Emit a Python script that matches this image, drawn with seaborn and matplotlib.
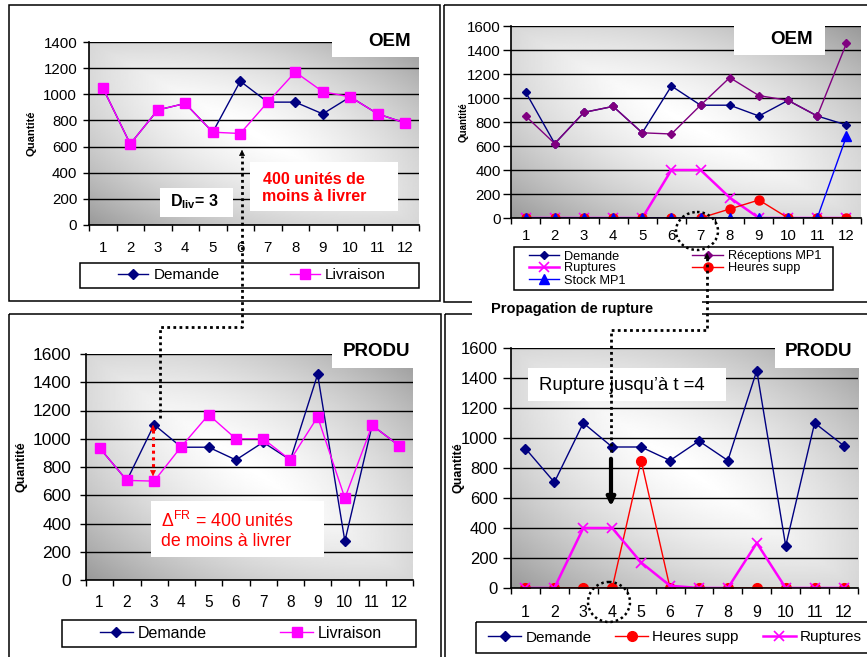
import numpy as np
import matplotlib
matplotlib.use("Agg")
import matplotlib.pyplot as plt
import seaborn as sns
from matplotlib.patches import Rectangle, Ellipse

# ---------------- data ----------------
periods = [1, 2, 3, 4, 5, 6, 7, 8, 9, 10, 11, 12]
period_labels = ["1", "2", "3", "4", "5", "6", "7", "8", "9", "10", "11", "12"]

oem_demande = [1050, 620, 880, 930, 710, 1100, 940, 940, 850, 980, 850, 780]
oem_livraison = [1050, 620, 880, 930, 710, 700, 940, 1170, 1020, 980, 850, 780]

oem2_demande = [1050, 620, 880, 930, 710, 1100, 940, 940, 850, 980, 850, 775]
oem2_receptions = [850, 620, 880, 930, 710, 700, 940, 1170, 1020, 980, 850, 1455]
oem2_ruptures = [0, 0, 0, 0, 0, 400, 400, 170, 0, 0, 0, 0]
oem2_heures = [0, 0, 0, 0, 0, 0, 0, 75, 150, 0, 0, 0]
oem2_stock = [0, 0, 0, 0, 0, 0, 0, 0, 0, 0, 0, 680]

produ_demande = [935, 705, 1100, 940, 940, 850, 975, 850, 1455, 275, 1095, 950]
produ_livraison = [935, 705, 700, 945, 1170, 1000, 1000, 850, 1155, 580, 1095, 950]

produ2_demande = [930, 705, 1100, 940, 940, 850, 980, 850, 1450, 280, 1100, 950]
produ2_heures = [0, 0, 0, 0, 850, 0, 0, 0, 0, 0, 0, 0]
produ2_ruptures = [0, 0, 400, 400, 170, 15, 0, 0, 300, 0, 0, 0]

NAVY = "#000080"
MAGENTA = "#FF00FF"
PURPLE = "#800080"
RED = "#FF0000"
BLUE = "#0000FF"

plt.rcParams["font.family"] = ["Liberation Sans", "DejaVu Sans"]
plt.rcParams["mathtext.fontset"] = "custom"
plt.rcParams["mathtext.rm"] = "Liberation Sans"
plt.rcParams["mathtext.bf"] = "Liberation Sans:bold"
plt.rcParams["mathtext.it"] = "Liberation Sans:italic"

W, H = 867, 657
fig = plt.figure(figsize=(W / 100, H / 100), dpi=100)
fig.patch.set_facecolor("white")


def px_rect(x0, y0, x1, y1):
    return [x0 / W, 1 - y1 / H, (x1 - x0) / W, (y1 - y0) / H]


# gradient for plot areas
gu, gv = np.meshgrid(np.linspace(0, 1, 200), np.linspace(1, 0, 200))
grad = 1 - 0.24 * np.abs(gu + gv - 1) ** 1.1 - 0.32 * ((gu - 0.5) ** 2 + (gv - 0.5) ** 2)


def style_axes(ax, ymax, ystep, yfs, xfs, ylen, ypad, xpad, ylab_fs, ylab_x):
    ax.imshow(grad, extent=[0, 1, 0, 1], transform=ax.transAxes, cmap="gray",
              vmin=0, vmax=1, aspect="auto", zorder=-2, interpolation="bilinear")
    ax.set_xlim(0.5, 12.5)
    ax.set_ylim(0, ymax)
    ax.set_yticks(np.arange(0, ymax + 1, ystep))
    ax.set_xticks(periods)
    ax.set_xticklabels(period_labels)
    ax.set_xticks(np.arange(0.5, 13, 1), minor=True)
    ax.tick_params(axis="x", which="major", length=0, pad=xpad, labelsize=xfs)
    ax.tick_params(axis="x", which="minor", length=4, width=1, direction="out")
    ax.tick_params(axis="y", length=ylen, width=1, pad=ypad, labelsize=yfs)
    ax.yaxis.grid(True, color="black", lw=1)
    ax.xaxis.grid(False)
    ax.set_axisbelow(True)
    for s in ["top", "right"]:
        ax.spines[s].set_visible(False)
    for s in ["left", "bottom"]:
        ax.spines[s].set_color("black")
        ax.spines[s].set_linewidth(1.2)
    ax.set_xlabel("")
    ax.set_ylabel("Quantité", fontsize=ylab_fs, fontweight="bold")
    ax.yaxis.set_label_coords(ylab_x, 0.5)


def line(ax, y, color, marker, ms, lw, label, mew=1.0):
    sns.lineplot(x=periods, y=y, ax=ax, color=color, marker=marker, markersize=ms,
                 markeredgecolor=color, markeredgewidth=mew, linewidth=lw, label=label)


def legend(ax, cx, cy, ncol, fs, hl, htp, cs, ls=0.5, order=None):
    h, l = ax.get_legend_handles_labels()
    if order is not None:
        h = [h[i] for i in order]
        l = [l[i] for i in order]
    ax.legend(h, l, loc="center", bbox_to_anchor=(cx / W, 1 - cy / H),
              bbox_transform=fig.transFigure, ncol=ncol, frameon=False, fontsize=fs,
              handlelength=hl, handletextpad=htp, columnspacing=cs, labelspacing=ls,
              borderaxespad=0, borderpad=0)


# ---------------- top-left: OEM ----------------
ax1 = fig.add_axes(px_rect(89, 42, 419, 225))
line(ax1, oem_demande, NAVY, "D", 5, 1.0, "Demande")
line(ax1, oem_livraison, MAGENTA, "s", 6.5, 1.0, "Livraison")
style_axes(ax1, 1400, 200, 10.8, 10.8, 4.5, 4, 11.5, 8, -0.16)
legend(ax1, 252, 275.5, 2, 11, 1.96, 0.33, 4.6)

# ---------------- top-right: OEM ----------------
ax2 = fig.add_axes(px_rect(511, 26, 861, 218))
line(ax2, oem2_demande, NAVY, "D", 4.5, 1.0, "Demande")
line(ax2, oem2_receptions, PURPLE, "D", 4.5, 1.0, "Réceptions MP1")
line(ax2, oem2_ruptures, MAGENTA, "x", 7, 1.8, "Ruptures", mew=1.2)
line(ax2, oem2_heures, RED, "o", 6.5, 1.0, "Heures supp")
line(ax2, oem2_stock, BLUE, "^", 7.2, 1.0, "Stock MP1")
style_axes(ax2, 1600, 200, 10.8, 10.8, 5.5, 2, 8, 7, -0.12)
legend(ax2, 675, 268.5, 2, 9.2, 2.4, 0.4, 5.2, ls=0.0, order=[0, 2, 4, 1, 3])

# ---------------- bottom-left: PRODU ----------------
ax3 = fig.add_axes(px_rect(86, 354, 413, 580))
line(ax3, produ_demande, NAVY, "D", 5, 1.0, "Demande")
line(ax3, produ_livraison, MAGENTA, "s", 7, 1.0, "Livraison")
style_axes(ax3, 1600, 200, 12.5, 11.2, 4.5, 6, 10.5, 9, -0.18)
legend(ax3, 241, 633.5, 2, 11.5, 2.06, 0.3, 4.6)

# ---------------- bottom-right: PRODU ----------------
ax4 = fig.add_axes(px_rect(511, 348, 858, 588))
line(ax4, produ2_demande, NAVY, "D", 5, 1.0, "Demande")
line(ax4, produ2_heures, RED, "o", 7, 1.0, "Heures supp")
line(ax4, produ2_ruptures, MAGENTA, "x", 7.5, 1.8, "Ruptures", mew=1.2)
style_axes(ax4, 1600, 200, 12, 11.5, 5.5, 4, 12, 9, -0.135)
legend(ax4, 675, 637.5, 3, 11, 2.16, 0.26, 1.57)

# ---------------- overlay annotations ----------------
ov = fig.add_axes([0, 0, 1, 1], zorder=20)
ov.set_xlim(0, W)
ov.set_ylim(H, 0)
ov.axis("off")
ov.patch.set_alpha(0)


def rect(x0, y0, x1, y1, fc="none", ec="black", lw=1.0, z=1):
    ov.add_patch(Rectangle((x0, y0), x1 - x0, y1 - y0, fc=fc, ec=ec, lw=lw, zorder=z))


# panel borders
rect(9, 5, 440, 301, lw=1.1)
rect(443.5, 5, 875, 302, lw=1.1)
rect(9, 314, 441, 670, lw=1.1)
rect(445, 314, 875, 670, lw=1.1)

# legend frames
rect(80, 263, 419, 288, lw=1.1)
rect(514, 247, 833, 290, lw=1.1)
rect(62, 620, 416, 647, lw=1.1)
rect(476, 622, 875, 653, lw=1.1)

# label boxes
for (x0, y0, x1, y1) in [(332, 24, 423, 57), (734, 24, 825, 55),
                         (332, 335, 423, 368), (775, 335, 875, 368)]:
    rect(x0, y0, x1, y1, fc="white", ec="none", z=2)
ov.text(390, 41, "OEM", fontsize=13.5, fontweight="bold", ha="center", va="center", zorder=3)
ov.text(792, 40, "OEM", fontsize=13.5, fontweight="bold", ha="center", va="center", zorder=3)
ov.text(376, 352, "PRODU", fontsize=13.5, fontweight="bold", ha="center", va="center", zorder=3)
ov.text(819, 352, "PRODU", fontsize=13.5, fontweight="bold", ha="center", va="center", zorder=3)

# TL annotation boxes
rect(160, 188, 233, 217, fc="white", ec="none", z=2)
ov.text(170, 202, r"D$_{\mathbf{liv}}$= 3", fontsize=11.5, fontweight="bold",
        ha="left", va="center", zorder=3)
rect(250, 162, 398, 211, fc="white", ec="none", z=2)
ov.text(314, 188, "400 unités de\nmoins à livrer", fontsize=11.5, fontweight="bold",
        color=RED, ha="center", va="center", linespacing=1.15, zorder=3)

# BL annotation box
rect(151, 501, 324, 557, fc="white", ec="none", z=2)
ov.text(161, 530, "Δ$^{\\mathrm{FR}}$ = 400 unités\nde moins à livrer", fontsize=12.8,
        color=RED, ha="left", va="center", linespacing=1.15, zorder=3)

# BR annotation box
rect(528, 368, 726, 401, fc="white", ec="none", z=2)
ov.text(539, 386, "Rupture jusqu’à t =4", fontsize=13.3, ha="left", va="center", zorder=3)

# Propagation label
rect(472, 299, 702, 319, fc="white", ec="none", z=4)
ov.text(572, 309, "Propagation de rupture", fontsize=10.5, fontweight="bold",
        ha="center", va="center", zorder=5)

DOT = (0, (1, 1.2))
# TL -> BL dotted connector
ov.plot([160, 160, 242, 242], [418, 327, 327, 156], color="black", lw=2, ls=DOT, zorder=6)
ov.annotate("", xy=(242, 147), xytext=(242, 157),
            arrowprops=dict(arrowstyle="-|>", color="black", lw=0.5, mutation_scale=9), zorder=6)

# TR -> BR dotted connector
ov.plot([611, 611, 707, 707], [452, 330, 330, 258], color="black", lw=2, ls=DOT, zorder=6)
ov.annotate("", xy=(707, 250), xytext=(707, 259),
            arrowprops=dict(arrowstyle="-|>", color="black", lw=0.5, mutation_scale=9), zorder=6)

# dotted circles
ov.add_patch(Ellipse((697, 231), 42, 38, fill=False, ec="black", lw=1.8, ls=DOT, zorder=6))
ov.add_patch(Ellipse((609, 602), 42, 40, fill=False, ec="black", lw=1.8, ls=DOT, zorder=6))

# thick black arrow in BR
ov.annotate("", xy=(611, 509), xytext=(611, 456),
            arrowprops=dict(arrowstyle="-|>", color="black", lw=3, mutation_scale=12), zorder=6)

# red dotted double arrow in BL
ov.plot([153, 153], [430, 471], color=RED, lw=2.2, ls=DOT, zorder=6)
ov.annotate("", xy=(153, 422), xytext=(153, 431),
            arrowprops=dict(arrowstyle="-|>", color=RED, lw=0.5, mutation_scale=9), zorder=6)
ov.annotate("", xy=(153, 479), xytext=(153, 470),
            arrowprops=dict(arrowstyle="-|>", color=RED, lw=0.5, mutation_scale=9), zorder=6)

fig.savefig("out.png", dpi=100)
